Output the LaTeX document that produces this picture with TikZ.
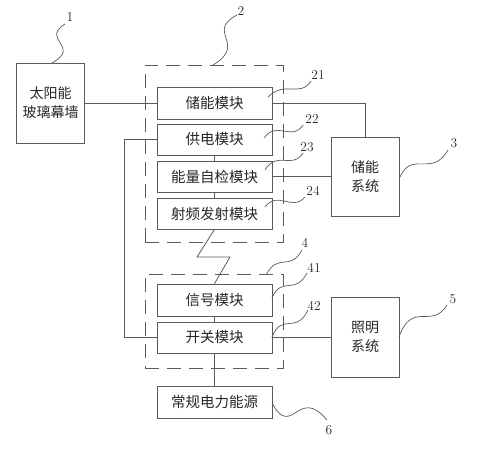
\documentclass[tikz,border=0pt]{standalone}
\usepackage{fontspec}
\newfontfamily\cjk{Noto Sans CJK SC}
\definecolor{lc}{HTML}{5A5A5A}
\definecolor{tc}{HTML}{262626}
\begin{document}
\begin{tikzpicture}[x=1pt,y=-1pt,line width=0.8pt,
  every node/.style={inner sep=0pt},
  box/.style={draw=lc,minimum width=115pt,minimum height=31pt,text=tc,font=\cjk\fontsize{14.5}{16}\selectfont},
  sysbox/.style={draw=lc,minimum width=68pt,minimum height=80pt,align=center,text=tc,font=\cjk\fontsize{14}{19}\selectfont},
  grp/.style={draw=lc,dash pattern=on 14pt off 8pt,minimum width=138pt},
  lbl/.style={text=tc,font=\fontsize{13.5}{13.5}\selectfont},
  wire/.style={draw=lc},
  lead/.style={draw=lc,line width=0.7pt}]
\useasboundingbox (0,0) rectangle (478,450);
% groups
\node[grp,minimum height=177pt] (g2) at (214,153.5) {};
\node[grp,minimum height=94pt] (g4) at (214,321) {};
% boxes
\node[sysbox] (b1) at (50.5,103) {太阳能\\玻璃幕墙};
\node[box,minimum height=32pt] (m21) at (214.5,103) {储能模块};
\node[box] (m22) at (214.5,139.5) {供电模块};
\node[box] (m23) at (214.5,176.5) {能量自检模块};
\node[box] (m24) at (214.5,213.5) {射频发射模块};
\node[sysbox,minimum height=79pt] (s3) at (365,176.5) {储能\\系统};
\node[box,minimum height=32pt] (m41) at (214.5,300) {信号模块};
\node[box] (m42) at (214.5,337.5) {开关模块};
\node[sysbox] (s5) at (365,337) {照明\\系统};
\node[box,minimum height=32pt] (m6) at (214.5,402) {常规电力能源};
% wires
\draw[wire] (b1) -- (m21);
\draw[wire] (m21.east) -| (s3.north);
\draw[wire] (m23) -- (s3);
\draw[wire] (m22) -- (m23);
\draw[wire] (m23) -- (m24);
\draw[wire] (m41) -- (m42);
\draw[wire] (m42) -- (m6);
\draw[wire] (m42.east) -- (s5.west |- m42.east);
\coordinate (lx) at (124,0);
\draw[wire] (m22.west) -- (lx |- m22.west) -- (lx |- m42.west) -- (m42.west);
\coordinate (z1) at (197,257);
\coordinate (z2) at (230,257);
\draw[wire] (m24.south) -- (z1) -- (z2) -- (m41.north);
% labels
\node[lbl] (n1) at (70,17) {1};
\node[lbl] (n2) at (241,11) {2};
\node[lbl] (n21) at (318,75) {21};
\node[lbl] (n22) at (312,119) {22};
\node[lbl] (n23) at (307,147) {23};
\node[lbl] (n24) at (313,191) {24};
\node[lbl] (n3) at (454,143) {3};
\node[lbl] (n4) at (305,243) {4};
\node[lbl] (n41) at (314,268) {41};
\node[lbl] (n42) at (314,306) {42};
\node[lbl] (n5) at (453,299) {5};
\node[lbl] (n6) at (329,430) {6};
% leader ends
\coordinate (e1) at (52,63);
\coordinate (e2) at (213,65);
\coordinate (e21) at (268,97);
\coordinate (e22) at (264,138);
\coordinate (e23) at (265,170);
\coordinate (e24) at (265,207);
\coordinate (e3) at (400,177);
\coordinate (e4) at (266,275);
\coordinate (e41) at (272,298);
\coordinate (e42) at (272,337);
\coordinate (e5) at (399,337);
\coordinate (e6) at (272,403);
% leaders
\draw[lead] (65,24) .. controls (40,40) and (82,46) .. (e1);
\draw[lead] (237,15) .. controls (205,32) and (248,44) .. (e2);
\draw[lead] (311,81) .. controls (300,98) and (285,80) .. (e21);
\draw[lead] (303,125) .. controls (292,142) and (277,120) .. (e22);
\draw[lead] (303,153) .. controls (292,170) and (277,150) .. (e23);
\draw[lead] (305,197) .. controls (292,212) and (278,190) .. (e24);
\draw[lead] (448,150) .. controls (432,178) and (412,150) .. (e3);
\draw[lead] (302,250) .. controls (290,272) and (278,252) .. (e4);
\draw[lead] (307,273) .. controls (295,296) and (282,275) .. (e41);
\draw[lead] (308,310) .. controls (296,335) and (282,312) .. (e42);
\draw[lead] (447,305) .. controls (432,330) and (412,300) .. (e5);
\draw[lead] (e6) .. controls (292,440) and (298,385) .. (327,420);
\end{tikzpicture}
\end{document}
